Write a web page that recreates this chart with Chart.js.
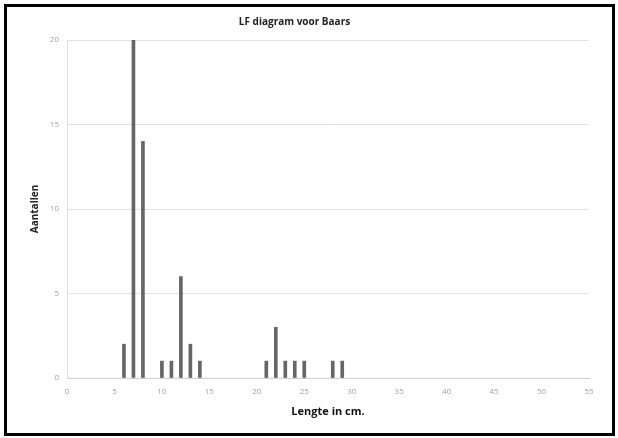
<!DOCTYPE html>
<html>
<head>
<meta charset="utf-8">
<script src="https://cdn.jsdelivr.net/npm/chart.js@4"></script>
<style>
  body { margin: 0; background: #fff; }
  #wrap { position: relative; width: 618px; height: 438px; }
  #frame {
    position: absolute; left: 4px; top: 4px; width: 611px; height: 432px;
    border: 3px solid #000; box-sizing: border-box; pointer-events: none;
  }
  canvas { position: absolute; left: 0; top: 0; }
</style>
</head>
<body>
<div id="wrap">
  <canvas id="lfChart" width="618" height="438"></canvas>
  <div id="frame"></div>
</div>
<script>
// Lengte-frequentie gegevens baars
const lengths = [6, 7, 8, 10, 11, 12, 13, 14, 21, 22, 23, 24, 25, 28, 29];
const counts  = [2, 20, 14, 1, 1, 6, 2, 1, 1, 3, 1, 1, 1, 1, 1];
const xTicks = [0, 5, 10, 15, 20, 25, 30, 35, 40, 45, 50, 55];
const yTicks = [0, 5, 10, 15, 20];

const points = lengths.map((l, i) => ({ x: l, y: counts[i] }));
const font = "'Open Sans', 'DejaVu Sans', sans-serif";

new Chart(document.getElementById('lfChart'), {
    type: 'bar',
    data: {
        datasets: [{
            label: 'Aantallen',
            data: points,
            backgroundColor: '#666666',
            borderWidth: 0,
            barThickness: 3
        }]
    },
    options: {
        responsive: false,
        animation: false,
        layout: { padding: { left: 0, right: 29, top: 0, bottom: 0 } },
        plugins: {
            legend: { display: false },
            tooltip: { enabled: false },
            title: {
                display: true,
                text: 'LF diagram voor Baars',
                color: '#222',
                font: { family: font, size: 10, weight: 'bold' },
                padding: { top: 16, bottom: 12 }
            }
        },
        scales: {
            x: {
                type: 'linear',
                offset: false,
                min: 0,
                max: 55,
                afterBuildTicks: s => { s.ticks = xTicks.map(v => ({ value: v })); },
                afterFit: s => { s.height = 60; },
                grid: { display: false, drawTicks: false },
                border: { display: true, color: '#cfcfcf', width: 1 },
                ticks: { color: '#a0a0a0', padding: 9, font: { family: font, size: 8 } },
                title: {
                    display: true,
                    text: 'Lengte in cm.',
                    color: '#111',
                    font: { family: font, size: 11, weight: 'bold' },
                    padding: { top: 0, bottom: 20 }
                }
            },
            y: {
                min: 0,
                max: 20,
                afterBuildTicks: s => { s.ticks = yTicks.map(v => ({ value: v })); },
                afterFit: s => { s.width = 67; },
                grid: { color: '#e2e2e2', drawTicks: false },
                border: { display: true, color: '#dcdcdc', width: 1 },
                ticks: { color: '#a0a0a0', padding: 8, font: { family: font, size: 8 } },
                title: {
                    display: true,
                    text: 'Aantallen',
                    color: '#222',
                    font: { family: font, size: 10, weight: 'bold' },
                    padding: { top: 29, bottom: 0 }
                }
            }
        }
    }
});
</script>
</body>
</html>
